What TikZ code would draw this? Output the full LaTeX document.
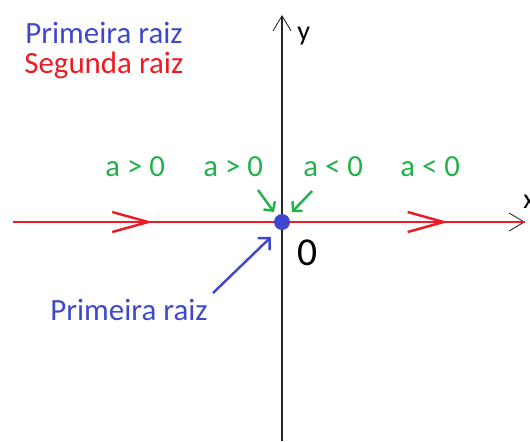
\documentclass[tikz,border=0pt]{standalone}
\usepackage{fontspec}
\setmainfont{Carlito}
\usepackage{tikz}
\usetikzlibrary{arrows.meta, positioning, calc, decorations.markings}
\definecolor{paintblue}{HTML}{3F48CC}
\definecolor{paintred}{HTML}{ED1C24}
\definecolor{paintgreen}{HTML}{22B14C}

\begin{document}
\begin{tikzpicture}[
    x=0.02cm, y=-0.02cm,
    axis/.style={-{Straight Barb[length=0.3cm, width=0.36cm, line width=0.5pt]}, line width=0.6pt, black!85},
    flowline/.style={line width=1.4pt, paintred,
                     decoration={markings,
                       mark=at position 0.273 with {\arrow{Straight Barb[length=0.72cm, width=0.4cm, line width=1.4pt]}},
                       mark=at position 0.85 with {\arrow{Straight Barb[length=0.72cm, width=0.4cm, line width=1.4pt]}}},
                     postaction={decorate}},
    cond/.style={font=\fontsize{17.5}{20}\selectfont, text=paintgreen, anchor=base west, inner sep=0pt},
    condarrow/.style={-{Straight Barb[length=0.13cm, width=0.28cm]}, line width=1.4pt, paintgreen},
    rootarrow/.style={-{Straight Barb[length=0.17cm, width=0.34cm]}, line width=1.4pt, paintblue},
    lbl/.style={font=\fontsize{17.6}{20}\selectfont, anchor=base west, inner sep=0pt}
]
    \useasboundingbox (0,0) rectangle (530,441);

    % eixos
    \coordinate (ybot) at (282,441);
    \coordinate (ytop) at (282,15);
    \coordinate (xleft) at (13,222);
    \coordinate (xright) at (525,222);
    \draw[axis] (ybot) -- (ytop);
    \draw[axis] (282,222) -- (xright);
    \node[lbl, font=\fontsize{16}{19}\selectfont] (ylab) at (297,40) {y};
    \node[lbl, font=\fontsize{16}{19}\selectfont] (xlab) at (523,208) {x};

    % reta de fase
    \draw[flowline] (xleft) -- (xright);
    \node[circle, fill=paintblue, minimum size=0.32cm, inner sep=0pt] (root) at (282,222) {};
    \node[lbl, font=\fontsize{22.5}{26}\selectfont] (zero) at (297,265) {0};

    % legenda
    \node[lbl, text=paintblue] (leg1) at (25,43) {Primeira raiz};
    \node[lbl, text=paintred] (leg2) at (24,73) {Segunda raiz};

    % sinais de a
    \node[cond] (c1) at (105,176) {a > 0};
    \node[cond] (c2) at (203,176) {a > 0};
    \node[cond] (c3) at (303,176) {a < 0};
    \node[cond] (c4) at (400,176) {a < 0};

    \coordinate (g1) at (258,190);
    \coordinate (g2) at (312,191);
    \draw[condarrow] (g1) -- (274,212);
    \draw[condarrow] (g2) -- (292,212);

    % primeira raiz
    \node[lbl, text=paintblue] (first) at (50,320) {Primeira raiz};
    \coordinate (b1) at (213,293);
    \draw[rootarrow] (b1) -- (271,237);
\end{tikzpicture}
\end{document}
